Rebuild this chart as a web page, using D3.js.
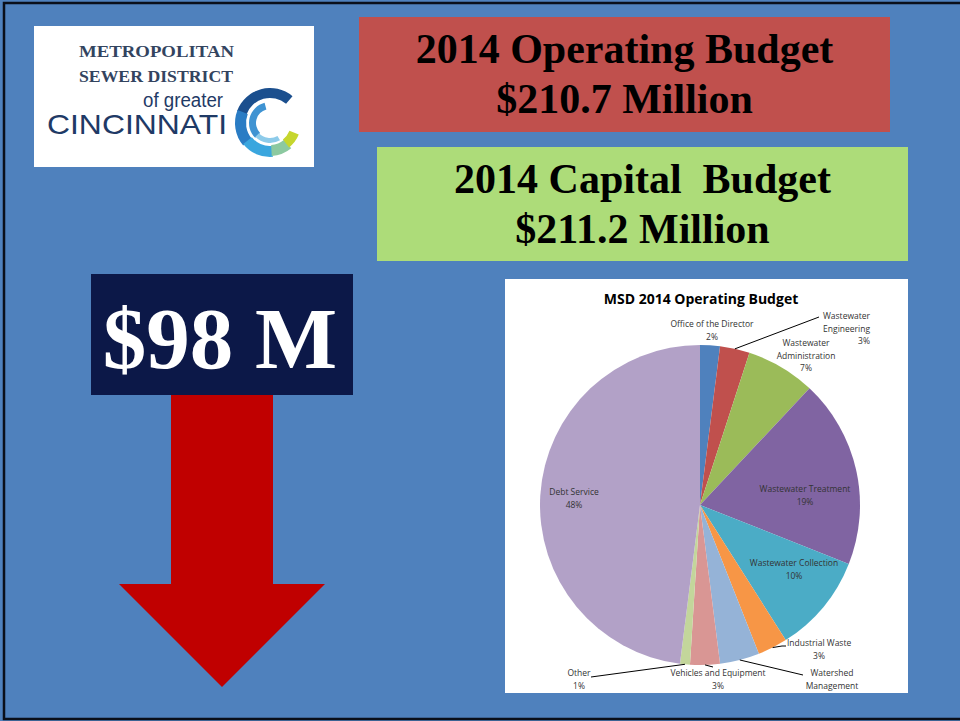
<!DOCTYPE html>
<html>
<head>
<meta charset="utf-8">
<script src="https://cdn.jsdelivr.net/npm/d3@7"></script>
<style>
  html, body { margin: 0; padding: 0; background: #4f81bd; }
  svg { display: block; }
</style>
</head>
<body>
<script>
// MSD 2014 operating budget, share of total (%)
const categories = ["Office of the Director", "Wastewater Engineering", "Wastewater Administration",
  "Wastewater Treatment", "Wastewater Collection", "Industrial Waste", "Watershed Management",
  "Vehicles and Equipment", "Other", "Debt Service"];
const shares = [2, 3, 7, 19, 10, 3, 4, 3, 1, 48];
const pctText = ["2%", "3%", "7%", "19%", "10%", "3%", "", "3%", "1%", "48%"];
const sliceColors = ["#4f81bd", "#c0504d", "#9bbb59", "#8064a2", "#4bacc6", "#f79646",
  "#95b3d7", "#d99694", "#c3d69b", "#b2a1c7"];
const chartTitle = "MSD 2014 Operating Budget";
const operatingLines = ["2014 Operating Budget", "$210.7 Million"];
const capitalLines = ["2014 Capital  Budget", "$211.2 Million"];
const cutText = "$98 M";

const w = 960, h = 721;
const svg = d3.select("body").append("svg")
  .attr("width", w)
  .attr("height", h);

svg.append("rect").attr("width", w).attr("height", h).attr("fill", "#4f81bd");
// slide frame
svg.append("path")
  .attr("d", "M960,3 H4 V719 H960")
  .attr("fill", "none")
  .attr("stroke", "#0a0f1a")
  .attr("stroke-width", 2.5);

// ---- logo ----
const logo = svg.append("g");
logo.append("rect").attr("x", 34).attr("y", 26).attr("width", 280).attr("height", 141).attr("fill", "#fff");
function logoText(x, y, len, font, color, s) {
  logo.append("text").attr("x", x).attr("y", y)
    .attr("textLength", len).attr("lengthAdjust", "spacingAndGlyphs")
    .style("font", font).attr("fill", color).text(s);
}
logoText(79, 57, 155, "bold 17px 'Liberation Serif', serif", "#33445f", "METROPOLITAN");
logoText(79, 82, 154, "bold 17px 'Liberation Serif', serif", "#33445f", "SEWER DISTRICT");
logoText(143, 107, 80, "20px 'Liberation Sans', sans-serif", "#1f3a66", "of greater");
logoText(47, 134, 180, "28px 'Liberation Sans', sans-serif", "#1f3a66", "CINCINNATI");

const swirl = logo.append("g").attr("transform", "translate(270,123)");
const rad = Math.PI / 180;
const swirlParts = [
  { r0: 25, r1: 35, a0: 290, a1: 400, c: "#1b4f8e" },
  { r0: 24, r1: 35, a0: 230, a1: 292, c: "#2a7cc4" },
  { r0: 23, r1: 34, a0: 175, a1: 232, c: "#3aa6de" },
  { r0: 22, r1: 33, a0: 140, a1: 177, c: "#8cc9a0" },
  { r0: 21, r1: 31, a0: 112, a1: 142, c: "#c6d62e" },
  { r0: 14, r1: 21, a0: 225, a1: 345, c: "#3f93d2" },
  { r0: 15, r1: 20, a0: 150, a1: 227, c: "#8dcbea" }
];
swirlParts.forEach(p => {
  swirl.append("path")
    .attr("d", d3.arc().innerRadius(p.r0).outerRadius(p.r1).startAngle(p.a0 * rad).endAngle(p.a1 * rad)())
    .attr("fill", p.c);
});

// ---- headline boxes ----
function headline(x, y, bw, bh, fill, lines, base0) {
  svg.append("rect").attr("x", x).attr("y", y).attr("width", bw).attr("height", bh).attr("fill", fill);
  svg.append("text")
    .attr("text-anchor", "middle")
    .attr("xml:space", "preserve")
    .style("font", "bold 42px 'Liberation Serif', 'Times New Roman', serif")
    .style("white-space", "pre")
    .attr("fill", "#000")
    .selectAll("tspan").data(lines).enter().append("tspan")
    .attr("x", x + bw / 2)
    .attr("y", (d, i) => base0 + i * 50)
    .text(d => d);
}
headline(359, 17, 531, 115, "#c0504d", operatingLines, 63);
headline(377, 147, 531, 114, "#addc79", capitalLines, 193);

// ---- $98 M and arrow ----
svg.append("rect").attr("x", 91).attr("y", 274).attr("width", 262).attr("height", 121).attr("fill", "#0c1848");
svg.append("text").attr("x", 220).attr("y", 368).attr("text-anchor", "middle")
  .style("font", "bold 87px 'Liberation Serif', 'Times New Roman', serif")
  .attr("fill", "#fff").text(cutText);
svg.append("path")
  .attr("d", "M171,395 H273 V584 H325 L222,687 L119,584 H171 Z")
  .attr("fill", "#c00000");

// ---- pie chart ----
svg.append("rect").attr("x", 505).attr("y", 279).attr("width", 403).attr("height", 414).attr("fill", "#fff");
svg.append("text").attr("x", 701).attr("y", 304).attr("text-anchor", "middle")
  .style("font", "bold 14px 'Open Sans', sans-serif").attr("fill", "#000").text(chartTitle);

const cx = 700, cy = 505, R = 160;
const pieData = d3.pie().sort(null).value(d => d)(shares);
const arc = d3.arc().innerRadius(0).outerRadius(R);
const g = svg.append("g").attr("transform", `translate(${cx},${cy})`);
g.selectAll("path.slice")
  .data(pieData)
  .enter()
  .append("path")
  .attr("class", "slice")
  .attr("d", arc)
  .attr("fill", (d, i) => sliceColors[i]);

// label placement (page coords) and leader-line ends
const labelLayout = [
  { lines: ["Office of the Director"], x: 712, y: 327, anchor: "middle" },
  { lines: ["Wastewater", "Engineering"], x: 870, y: 319, anchor: "end", leader: [[819, 317]] },
  { lines: ["Wastewater", "Administration"], x: 806, y: 346, anchor: "middle" },
  { lines: ["Wastewater Treatment"], x: 805, y: 492, anchor: "middle" },
  { lines: ["Wastewater Collection"], x: 794, y: 566, anchor: "middle" },
  { lines: ["Industrial Waste"], x: 787, y: 646, anchor: "start", pctX: 819, leader: [[782, 646], [786, 646]] },
  { lines: ["Watershed", "Management"], x: 832, y: 676, anchor: "middle", leader: [[803, 675]] },
  { lines: ["Vehicles and Equipment"], x: 718, y: 676, anchor: "middle", leader: [[713, 667]] },
  { lines: ["Other"], x: 579, y: 676, anchor: "middle", leader: [[591, 677]] },
  { lines: ["Debt Service"], x: 574, y: 495, anchor: "middle" }
];

pieData.forEach((d, i) => {
  const L = labelLayout[i];
  if (L.leader) {
    const mid = (d.startAngle + d.endAngle) / 2;
    const pts = [[cx + R * Math.sin(mid), cy - R * Math.cos(mid)]].concat(L.leader);
    svg.append("path").attr("d", d3.line()(pts))
      .attr("fill", "none").attr("stroke", "#000").attr("stroke-width", 1);
  }
  const rows = L.lines.concat(pctText[i] ? [pctText[i]] : []);
  const t = svg.append("text")
    .style("font", "8.5px 'Open Sans', sans-serif")
    .attr("fill", "#333");
  rows.forEach((s, k) => {
    const isPct = k === rows.length - 1 && pctText[i];
    t.append("tspan")
      .attr("x", isPct && L.pctX ? L.pctX : L.x)
      .attr("y", L.y + k * 12.5)
      .attr("text-anchor", isPct && L.pctX ? "middle" : L.anchor)
      .text(s);
  });
});
</script>
</body>
</html>
